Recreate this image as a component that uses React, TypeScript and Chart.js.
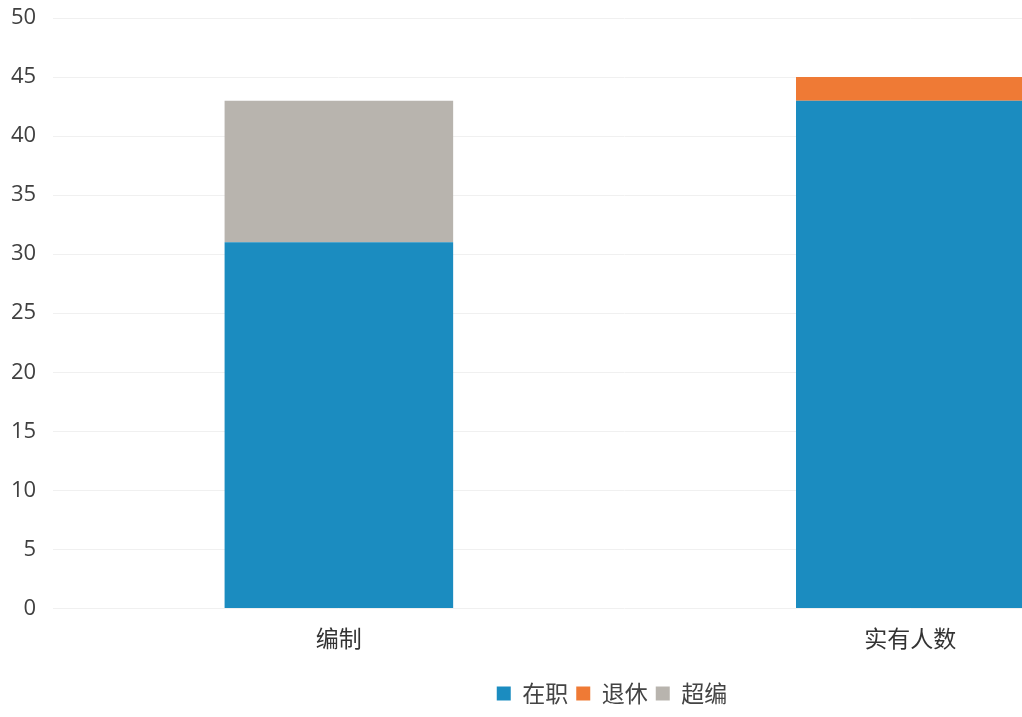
import React, { useEffect, useRef } from "react";
import { Chart, registerables } from "chart.js";

Chart.register(...registerables);

const categories = ["编制", "实有人数"];
const seriesNames = ["在职", "退休", "超编"];
const zaizhi = [31, 43];
const tuixiu = [0, 2];
const chaobian = [12, 0];
const yTicks = [0, 5, 10, 15, 20, 25, 30, 35, 40, 45, 50];

const legendShift = {
  id: "legendShift",
  afterLayout(chart: any) {
    if (chart.legend) {
      chart.legend.left += 17;
      chart.legend.right += 17;
    }
  },
};

export default function App() {
  const ref = useRef<HTMLCanvasElement | null>(null);

  useEffect(() => {
    document.body.style.margin = "0";
    document.body.style.overflow = "hidden";
    if (!ref.current) return;
    const chart = new Chart(ref.current, {
      type: "bar",
      data: {
        labels: categories,
        datasets: [
          { label: seriesNames[0], data: zaizhi, backgroundColor: "#1b8cc0" },
          { label: seriesNames[1], data: tuixiu, backgroundColor: "#ef7a35" },
          { label: seriesNames[2], data: chaobian, backgroundColor: "#b8b4ae" },
        ],
      },
      plugins: [legendShift],
      options: {
        animation: false,
        responsive: true,
        maintainAspectRatio: false,
        layout: { padding: { left: -6, right: 2, top: 18, bottom: 2 } },
        datasets: { bar: { categoryPercentage: 0.8, barPercentage: 0.5 } },
        plugins: {
          tooltip: { enabled: false },
          legend: {
            position: "bottom",
            labels: {
              boxWidth: 14,
              boxHeight: 14,
              padding: 8,
              color: "#444",
              font: { size: 23, family: "'Noto Sans CJK SC', sans-serif" },
            },
          },
        },
        scales: {
          x: {
            stacked: true,
            grid: { display: false },
            border: { display: false },
            afterFit: (axis: any) => {
              axis.height += 14;
            },
            ticks: {
              color: "#333",
              padding: 8,
              font: { size: 23, family: "'Noto Sans CJK SC', sans-serif" },
            },
          },
          y: {
            stacked: true,
            min: 0,
            max: 50,
            afterBuildTicks: (axis: any) => {
              axis.ticks = yTicks.map((v) => ({ value: v }));
            },
            afterFit: (axis: any) => {
              axis.paddingTop = 0;
            },
            grid: { color: "#f0f0f0", drawTicks: false },
            border: { display: false },
            ticks: {
              color: "#404040",
              padding: 17,
              font: { size: 22, family: "'Open Sans', sans-serif" },
            },
          },
        },
      },
    });
    return () => chart.destroy();
  }, []);

  return (
    <div style={{ position: "absolute", left: 0, top: 0, width: 1022, height: 717, overflow: "hidden", background: "#fff" }}>
      <div style={{ position: "relative", width: 1198, height: 717 }}>
        <canvas ref={ref} />
      </div>
    </div>
  );
}
